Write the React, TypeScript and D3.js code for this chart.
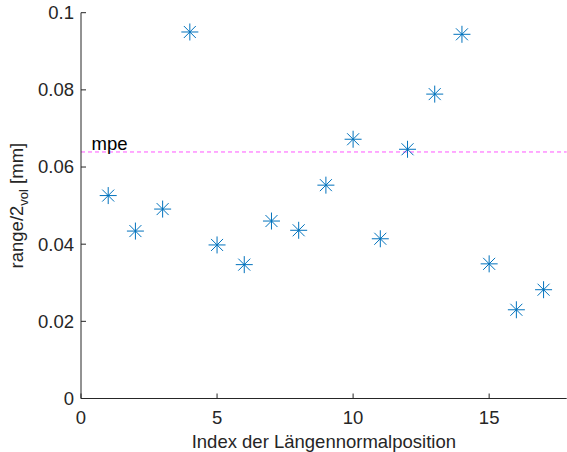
import React, { useRef, useEffect } from "react";
import * as d3 from "d3";

// positions along the length normal (1..17)
const positions = [1, 2, 3, 4, 5, 6, 7, 8, 9, 10, 11, 12, 13, 14, 15, 16, 17];
const rangeHalf = [
  0.0526, 0.0434, 0.0491, 0.0950, 0.0398, 0.0347, 0.0460, 0.0436, 0.0553,
  0.0672, 0.0414, 0.0646, 0.0789, 0.0944, 0.0349, 0.0230, 0.0282,
];
const mpe = 0.0639;
const xTicks = [0, 5, 10, 15];
const yTicks = [0, 0.02, 0.04, 0.06, 0.08, 0.1];

const W = 567;
const H = 452;
const font = "'Liberation Sans', Arial, Helvetica, sans-serif";
const fs = 18.5;
const axisColor = "#262626";
const blue = "#0072BD";

function App() {
  const svgRef = useRef<SVGSVGElement>(null);

  useEffect(() => {
    const svg = d3.select(svgRef.current);
    svg.selectAll("*").remove();

    const x = d3.scaleLinear().domain([0, 17.85]).range([81, 566.7]);
    const y = d3.scaleLinear().domain([0, 0.1]).range([398.5, 12.7]);

    // mpe limit line
    svg.append("line")
      .attr("x1", x(0)).attr("x2", x(17.85))
      .attr("y1", y(mpe)).attr("y2", y(mpe))
      .attr("stroke", "#ff55ff")
      .attr("stroke-width", 1)
      .attr("stroke-dasharray", "4,3");

    svg.append("text")
      .attr("x", x(0.39))
      .attr("y", y(mpe) - 1.5)
      .attr("font-family", font)
      .attr("font-size", fs)
      .attr("fill", "#000")
      .text("mpe");

    // axes
    svg.append("line")
      .attr("x1", x(0)).attr("x2", x(0))
      .attr("y1", y(0)).attr("y2", y(0.1))
      .attr("stroke", axisColor);
    svg.append("line")
      .attr("x1", x(0)).attr("x2", x(17.85))
      .attr("y1", y(0)).attr("y2", y(0))
      .attr("stroke", axisColor);

    const xt = svg.append("g").selectAll("g").data(xTicks).join("g");
    xt.append("line")
      .attr("x1", (d) => x(d)).attr("x2", (d) => x(d))
      .attr("y1", y(0)).attr("y2", y(0) - 5)
      .attr("stroke", axisColor);
    xt.append("text")
      .attr("x", (d) => x(d))
      .attr("y", y(0) + 25.5)
      .attr("text-anchor", "middle")
      .attr("font-family", font)
      .attr("font-size", fs)
      .attr("fill", axisColor)
      .text((d) => d);

    const yt = svg.append("g").selectAll("g").data(yTicks).join("g");
    yt.append("line")
      .attr("x1", x(0)).attr("x2", x(0) + 5)
      .attr("y1", (d) => y(d)).attr("y2", (d) => y(d))
      .attr("stroke", axisColor);
    yt.append("text")
      .attr("x", x(0) - 7)
      .attr("y", (d) => y(d))
      .attr("dy", "0.35em")
      .attr("text-anchor", "end")
      .attr("font-family", font)
      .attr("font-size", fs)
      .attr("fill", axisColor)
      .text((d) => d3.format("~g")(d));

    // axis titles
    svg.append("text")
      .attr("x", (x(0) + x(17.85)) / 2)
      .attr("y", 448)
      .attr("text-anchor", "middle")
      .attr("font-family", font)
      .attr("font-size", fs)
      .attr("fill", axisColor)
      .text("Index der Längennormalposition");

    const yl = svg.append("text")
      .attr("transform", `translate(23,${(y(0) + y(0.1)) / 2}) rotate(-90)`)
      .attr("text-anchor", "middle")
      .attr("font-family", font)
      .attr("font-size", fs)
      .attr("fill", axisColor);
    yl.append("tspan").text("range/2");
    yl.append("tspan").attr("font-size", 13).attr("dy", 5).text("vol");
    yl.append("tspan").attr("dy", -5).text(" [mm]");

    // asterisk markers
    const r = 8.5;
    const rd = 6;
    const star = `M${-r},0L${r},0M0,${-r}L0,${r}M${-rd},${-rd}L${rd},${rd}M${-rd},${rd}L${rd},${-rd}`;
    svg.append("g").selectAll("path")
      .data(positions.map((p, i) => [p, rangeHalf[i]]))
      .join("path")
      .attr("transform", (d) => `translate(${x(d[0])},${y(d[1])})`)
      .attr("d", star)
      .attr("fill", "none")
      .attr("stroke", blue)
      .attr("stroke-width", 1);
  }, []);

  return (
    <svg
      ref={svgRef}
      width={W}
      height={H}
      style={{ position: "absolute", left: 0, top: 0, background: "#fff" }}
    ></svg>
  );
}

export default App;
